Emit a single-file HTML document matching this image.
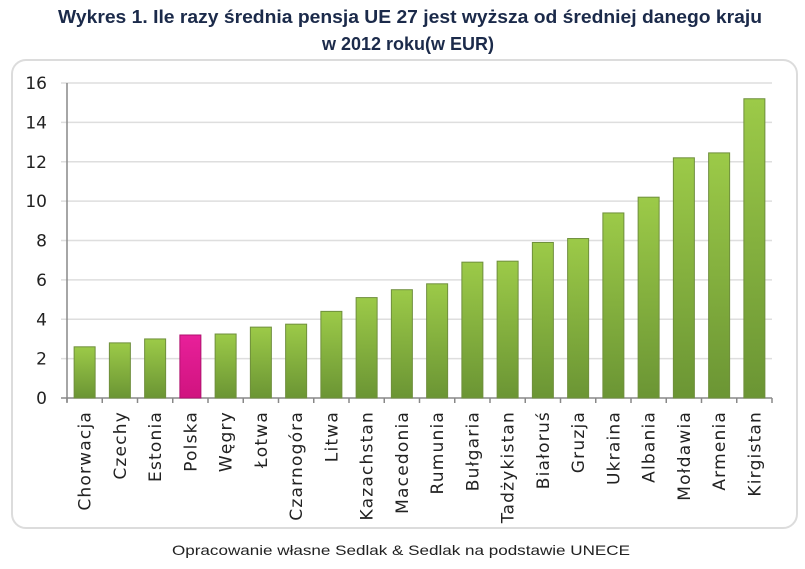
<!DOCTYPE html>
<html><head><meta charset="utf-8"><style>
body{margin:0;background:#fff;width:805px;height:564px;overflow:hidden;font-family:"Liberation Sans",sans-serif}
</style></head><body>
<svg width="805" height="564">
<defs>
<linearGradient id="g" x1="0" y1="0" x2="0" y2="1"><stop offset="0" stop-color="#9cca48"/><stop offset="1" stop-color="#6b9534"/></linearGradient>
<linearGradient id="p" x1="0" y1="0" x2="0" y2="1"><stop offset="0" stop-color="#e8209a"/><stop offset="1" stop-color="#d0137f"/></linearGradient>
</defs>
<text x="410" y="23" text-anchor="middle" font-size="18" font-weight="bold" fill="#1b2a4a" textLength="704" lengthAdjust="spacingAndGlyphs">Wykres 1. Ile razy średnia pensja UE 27 jest wyższa od średniej danego kraju</text>
<text x="408" y="50" text-anchor="middle" font-size="18" font-weight="bold" fill="#1b2a4a" textLength="172" lengthAdjust="spacingAndGlyphs">w 2012 roku(w EUR)</text>
<rect x="12" y="60" width="785" height="468" rx="14" fill="#fff" stroke="#dcdcdc" stroke-width="2"/>
<g id="grid"></g><g id="bars"></g><g id="labels"></g>
<text x="401" y="555" text-anchor="middle" font-size="14" fill="#222" textLength="458" lengthAdjust="spacingAndGlyphs">Opracowanie własne Sedlak &amp; Sedlak na podstawie UNECE</text>
</svg>
<script>
const categories=["Chorwacja","Czechy","Estonia","Polska","Węgry","Łotwa","Czarnogóra","Litwa","Kazachstan","Macedonia","Rumunia","Bułgaria","Tadżykistan","Białoruś","Gruzja","Ukraina","Albania","Mołdawia","Armenia","Kirgistan"];
const values=[2.6,2.8,3.0,3.2,3.25,3.6,3.75,4.4,5.1,5.5,5.8,6.9,6.95,7.9,8.1,9.4,10.2,12.2,12.45,15.2];
const highlight=["Polska"];
const yTicks=[0,2,4,6,8,10,12,14,16];
const NS="http://www.w3.org/2000/svg";
const L=67,R=772,T=83,B=398,ymax=16;
const y=v=>B-(B-T)*v/ymax;
const bw=(R-L)/categories.length;
const x=i=>L+bw*(i+0.5);
function mk(t,a,p){const e=document.createElementNS(NS,t);for(const k in a)e.setAttribute(k,a[k]);p.appendChild(e);return e;}
const grid=document.getElementById('grid'),bars=document.getElementById('bars'),labels=document.getElementById('labels');
yTicks.forEach(v=>{
 const gl=mk('line',{x1:L-6,x2:R,y1:y(v),y2:y(v),stroke:v===0?'#888':'#dedede','stroke-width':1.5},grid);
 
 
 const t=mk('text',{x:47,y:y(v)+6,'text-anchor':'end','font-size':17,fill:'#222','font-family':'DejaVu Sans, sans-serif'},grid);
 t.textContent=v;
 
 
});
const ax=mk('line',{x1:L,x2:L,y1:T,y2:B+4,stroke:'#888','stroke-width':1.5},grid);


for(let i=0;i<=categories.length;i++){
 const tk=mk('line',{x1:L+bw*i,x2:L+bw*i,y1:B,y2:B+5,stroke:'#888','stroke-width':1.5},grid);
 
 
}
categories.forEach((c,i)=>{
 const w=21,h=B-y(values[i]);
 const hl=highlight.includes(c);
 const r=mk('rect',{x:x(i)-w/2,y:y(values[i]),width:w,height:h,fill:hl?'url(#p)':'url(#g)',stroke:hl?'#b0106f':'#6f8f3c','stroke-width':1},bars);
 
 
 const t=mk('text',{x:0,y:0,'text-anchor':'end','font-size':17,'letter-spacing':1.2,fill:'#222','font-family':'DejaVu Sans, sans-serif',transform:`translate(${x(i)+6},${B+13}) rotate(-90)`},labels);
 t.textContent=c;
 
 
});
</script>
</body></html>
